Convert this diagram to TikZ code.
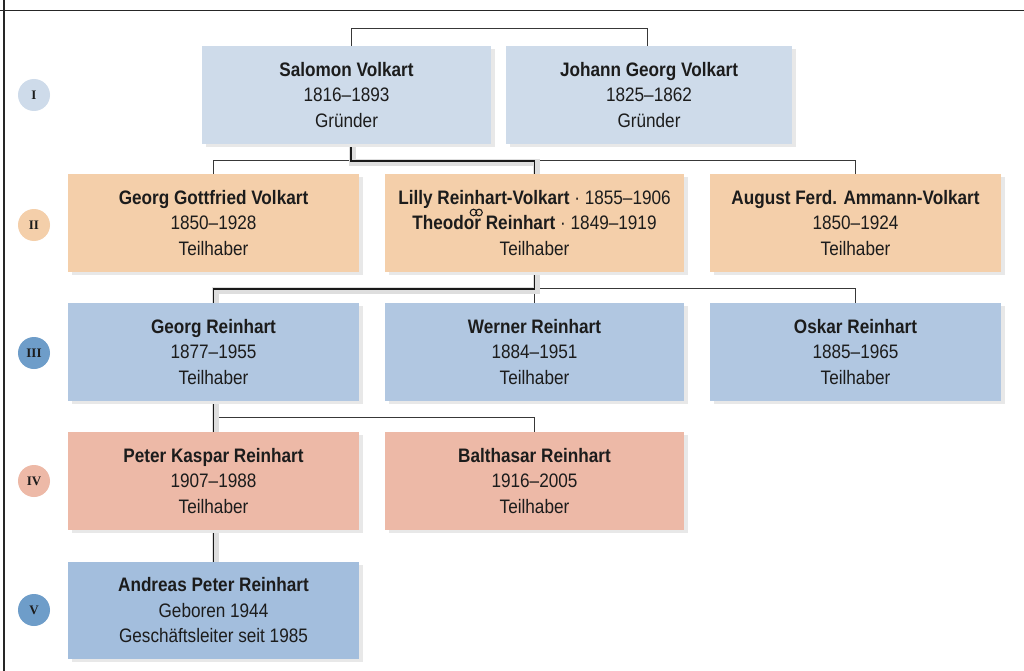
\documentclass[tikz,border=0pt]{standalone}
\usepackage{fontspec}
\setmainfont{Liberation Sans}[FakeStretch=0.88]
\newfontfamily\numfont{Liberation Serif}
\usetikzlibrary{calc,shadows}
\pgfdeclarelayer{background}
\pgfsetlayers{background,main}
\definecolor{cI}{HTML}{CEDBEA}
\definecolor{cII}{HTML}{F4CFAA}
\definecolor{cIII}{HTML}{B1C7E1}
\definecolor{cIV}{HTML}{EDB9A7}
\definecolor{cV}{HTML}{A3BEDD}
\definecolor{gIII}{HTML}{6E9DC9}
\definecolor{txt}{HTML}{1C1C1C}
\tikzset{
  box/.style={rectangle, minimum height=98pt, inner sep=0pt, align=center,
    font=\fontsize{19.5}{25.5}\selectfont, text=txt,
    drop shadow={shadow xshift=3.5pt, shadow yshift=-3pt, fill=black!9, opacity=1}},
  gen/.style={circle, minimum size=32pt, inner sep=0pt, text=txt,
    font=\numfont\bfseries\fontsize{13}{13}\selectfont},
  conn/.style={draw=black!78, line width=0.9pt},
  mainline/.style={draw=black!90, line width=1.6pt,
    preaction={draw=black!13, line width=7pt, transform canvas={shift={(1.5pt,-1.5pt)}}}},
  ring/.style={draw=txt, line width=1.1pt}
}
\begin{document}
\begin{tikzpicture}[x=1pt,y=-1pt]
\useasboundingbox (0,0) rectangle (1024,671);

% generation markers
\node[gen, fill=cI]   (gI)   at (34,95)  {I};
\node[gen, fill=cII]  (gII)  at (34,225) {II};
\node[gen, fill=gIII] (gIIIc) at (34,353) {III};
\node[gen, fill=cIV]  (gIV)  at (34,481) {IV};
\node[gen, fill=gIII] (gV)   at (34,610) {V};

% row I
\node[box, fill=cI, minimum width=289pt] (sal) at (346.5,95) {\textbf{Salomon Volkart}\\1816–1893\\Gründer};
\node[box, fill=cI, minimum width=286pt] (joh) at (649,95) {\textbf{Johann Georg Volkart}\\1825–1862\\Gründer};
% row II
\node[box, fill=cII, minimum width=291pt] (gg) at (213.5,223) {\textbf{Georg Gottfried Volkart}\\1850–1928\\Teilhaber};
\node[box, fill=cII, minimum width=299pt] (lil) at (534.5,223) {\textbf{Lilly Reinhart-Volkart} · 1855–1906\\\textbf{Theodor Reinhart} · 1849–1919\\Teilhaber};
\node[box, fill=cII, minimum width=291pt] (aug) at (855.5,223) {\textbf{August Ferd. Ammann-Volkart}\\1850–1924\\Teilhaber};
% marriage rings
\draw[ring] ($(lil.center)+(-61,-10.5)$) circle (3.3) ($(lil.center)+(-55.5,-10.5)$) circle (3.3);
% row III
\node[box, fill=cIII, minimum width=291pt] (geo) at (213.5,352) {\textbf{Georg Reinhart}\\1877–1955\\Teilhaber};
\node[box, fill=cIII, minimum width=299pt] (wer) at (534.5,352) {\textbf{Werner Reinhart}\\1884–1951\\Teilhaber};
\node[box, fill=cIII, minimum width=291pt] (osk) at (855.5,352) {\textbf{Oskar Reinhart}\\1885–1965\\Teilhaber};
% row IV
\node[box, fill=cIV, minimum width=291pt] (pet) at (213.5,481) {\textbf{Peter Kaspar Reinhart}\\1907–1988\\Teilhaber};
\node[box, fill=cIV, minimum width=299pt] (bal) at (534.5,481) {\textbf{Balthasar Reinhart}\\1916–2005\\Teilhaber};
% row V
\node[box, fill=cV, minimum width=291pt, minimum height=97pt] (and) at (213.5,610.5) {\textbf{Andreas Peter Reinhart}\\Geboren 1944\\Geschäftsleiter seit 1985};

\begin{pgfonlayer}{background}
  \fill[white] (0,0) rectangle (1024,671);
  \draw[line width=1.4pt, black!85] (0,10.5) -- (1024,10.5);
  \draw[line width=1.2pt, black!85] (4,0) -- (4,671);
  % founders
  \draw[conn] ($(sal.north)+(4.5,0)$) -- ++(0,-17) -| ($(joh.north)+(-2,0)$);
  % row I -> II
  \draw[conn] (gg.north) -- ++(0,-13) -| (aug.north);
  \draw[mainline] ($(sal.south)+(4.5,0)$) |- ($(lil.north)+(0,-13)$) -- (lil.north);
  % row II -> III
  \draw[conn] (geo.north) -- ++(0,-14) -| (osk.north);
  \draw[conn] (wer.north) -- ++(0,-14);
  \draw[mainline] (lil.south) |- ($(geo.north)+(0,-14)$) -- (geo.north);
  % row III -> IV
  \draw[conn] ($(pet.north)+(0,-14)$) -| (bal.north);
  \draw[mainline] (geo.south) -- (pet.north);
  % row IV -> V
  \draw[mainline] (pet.south) -- (and.north);
\end{pgfonlayer}
\end{tikzpicture}
\end{document}
